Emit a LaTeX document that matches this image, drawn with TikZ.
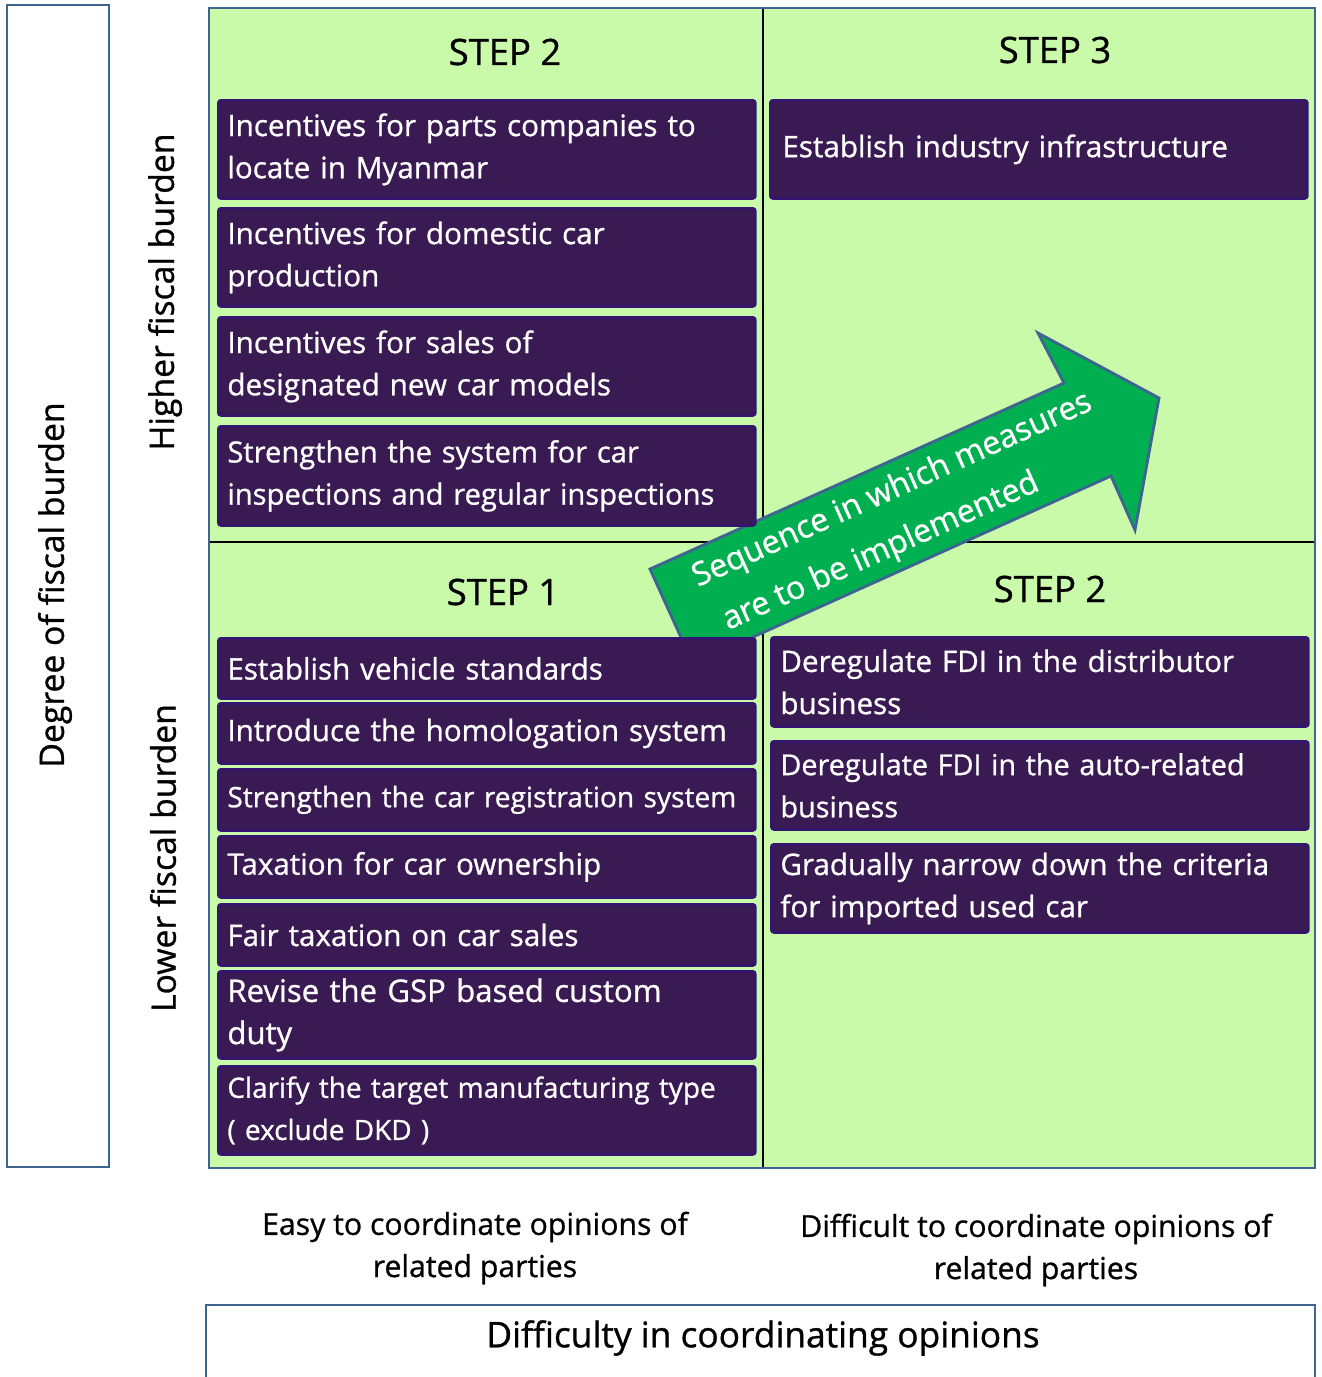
\documentclass[tikz,border=0pt]{standalone}
\usepackage{fontspec}
\setmainfont{Open Sans}[FakeBold=0.9]
\definecolor{quadgreen}{HTML}{C8FAAA}
\definecolor{boxfill}{HTML}{3A1A52}
\definecolor{boxline}{HTML}{34166E}
\definecolor{frameblue}{HTML}{3E6491}
\definecolor{arrowgreen}{HTML}{00B050}

\begin{document}
\begin{tikzpicture}[
        x=0.02cm, y=-0.02cm,
        font=\fontsize{17.2}{24}\selectfont,
        frame/.style={draw=frameblue,line width=1.4pt},
        measure/.style={fill=boxfill,draw=boxline,line width=1.6pt,rounded corners=1.5pt,
          text=white,align=left,anchor=north west,inner xsep=0.18cm,inner ysep=0pt,
          minimum width=10.74cm,text width=10.38cm,font=\fontsize{16.85}{24}\selectfont},
        steplabel/.style={font=\fontsize{20.7}{24}\selectfont},
        axislabel/.style={rotate=90,font=\fontsize{19.2}{24}\selectfont},
      ]
      \useasboundingbox (0,0) rectangle (1322,1377);

      % frames and quadrants
      \draw[frame] (7,5) rectangle (109,1167);
      \fill[quadgreen] (209,8) rectangle (1315,1168);
      \draw[thick] (763,8) -- (763,1168);
      \draw[thick] (209,542) -- (1315,542);
      \draw[frame] (209,8) rectangle (1315,1168);
      \draw[frame] (206,1377) -- (206,1305) -- (1315,1305) -- (1315,1377);

      % sequence arrow
      \draw[draw=frameblue,fill=arrowgreen,line width=1.6pt,line join=miter]
        (650,569) -- (1064,383) -- (1038,333) -- (1159,398) -- (1135,530) -- (1111,476) -- (693,664) -- cycle;
      \node[rotate=24.2,text=white,align=left,font=\fontsize{18.3}{29.5}\selectfont] (seq) at (903,514)
        {Sequence in which measures\\\hspace{0.2cm}are to be implemented};

      % step titles
      \node[steplabel] (step2a) at (505,52) {STEP 2};
      \node[steplabel] (step3) at (1055,50) {STEP 3};
      \node[steplabel] (step1) at (503,592) {STEP 1};
      \node[steplabel] (step2b) at (1050,589) {STEP 2};

      % step 2, higher burden
      \node[measure,minimum height=1.96cm] (parts) at (217,99) {Incentives for parts companies to\\locate in Myanmar};
      \node[measure,minimum height=1.96cm] (domestic) at (217,207) {Incentives for domestic car\\production};
      \node[measure,minimum height=1.96cm] (models) at (217,316) {Incentives for sales of\\designated new car models};
      \node[measure,minimum height=1.98cm,font=\fontsize{16.6}{24}\selectfont] (inspect) at (217,425) {Strengthen the system for car\\inspections and regular inspections};

      % step 3
      \node[measure,minimum height=1.96cm] (infra) at (769,99) {\hspace{0.06cm}Establish industry infrastructure};

      % step 1, lower burden
      \node[measure,minimum height=1.2cm] (standards) at (217,637) {Establish vehicle standards};
      \node[measure,minimum height=1.2cm] (homolog) at (217,702) {Introduce the homologation system};
      \node[measure,minimum height=1.22cm,font=\fontsize{16}{24}\selectfont] (regist) at (217,768) {Strengthen the car registration system};
      \node[measure,minimum height=1.22cm] (owner) at (217,835) {Taxation for car ownership};
      \node[measure,minimum height=1.22cm] (sales) at (217,903) {Fair taxation on car sales};
      \node[measure,minimum height=1.74cm,font=\fontsize{17.7}{24}\selectfont] (gsp) at (217,970) {Revise the GSP based custom\\duty};
      \node[measure,minimum height=1.76cm,font=\fontsize{15.9}{24}\selectfont] (dkd) at (217,1065) {Clarify the target manufacturing type\\( exclude DKD )};

      % step 2, lower burden
      \node[measure,minimum height=1.78cm] (distrib) at (770,636) {Deregulate FDI in the distributor\\business};
      \node[measure,minimum height=1.76cm,font=\fontsize{16.4}{24}\selectfont] (autorel) at (770,740) {Deregulate FDI in the auto-related\\business};
      \node[measure,minimum height=1.76cm] (usedcar) at (770,843) {\makebox[\linewidth][s]{Gradually narrow down the criteria}\\for imported used car};

      % axis labels
      \node[axislabel] (degree) at (55,585) {Degree of fiscal burden};
      \node[axislabel] (higher) at (165,292) {Higher fiscal burden};
      \node[axislabel] (lower) at (163,858) {Lower fiscal burden};
      \node[align=center] (easy) at (475,1248) {Easy to coordinate opinions of\\related parties};
      \node[align=center] (hard) at (1036,1250) {Difficult to coordinate opinions of\\related parties};
      \node[font=\fontsize{20.1}{24}\selectfont] (difficulty) at (763,1338) {Difficulty in coordinating opinions};

    \end{tikzpicture}
\end{document}
